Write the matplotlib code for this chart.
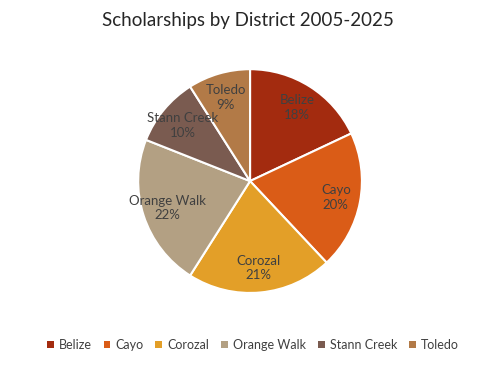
import matplotlib.pyplot as plt
from matplotlib.patches import Patch

districts = ['Belize', 'Cayo', 'Corozal', 'Orange Walk', 'Stann Creek', 'Toledo']
shares = [18, 20, 21, 22, 10, 9]
colors = ['#A32B0F', '#DA5C17', '#E39F28', '#B3A083', '#7A5B50', '#B27A47']

plt.rcParams['font.family'] = ['Lato', 'DejaVu Sans']
TXT = '#404040'

fig = plt.figure(figsize=(4.86, 3.8), dpi=100)
ax = fig.add_axes([0.282, 0.226, 0.465, 0.595])

labels_iter = iter(districts)
wedges, _, autotexts = ax.pie(
    shares, colors=colors, startangle=90, counterclock=False,
    autopct=lambda p: '%s\n%.0f%%' % (next(labels_iter), p),
    pctdistance=0.78,
    wedgeprops=dict(edgecolor='white', linewidth=1.5),
    textprops=dict(color=TXT, fontsize=9.5, linespacing=1.25),
)
ax.set_xlim(-1.01, 1.01)
ax.set_ylim(-1.01, 1.01)
ax.set_aspect('equal')

fig.text(0.51, 0.945, 'Scholarships by District 2005-2025', ha='center', va='center',
         fontsize=13.5, color='#262626')

handles = [Patch(facecolor=c, edgecolor='none') for c in colors]
fig.legend(handles, districts, loc='center', bbox_to_anchor=(0.52, 0.092), ncol=6,
           frameon=False, fontsize=9, handlelength=0.55, handleheight=0.55,
           handletextpad=0.4, columnspacing=0.95, labelcolor=TXT)

fig.savefig('out.png', dpi=100)
